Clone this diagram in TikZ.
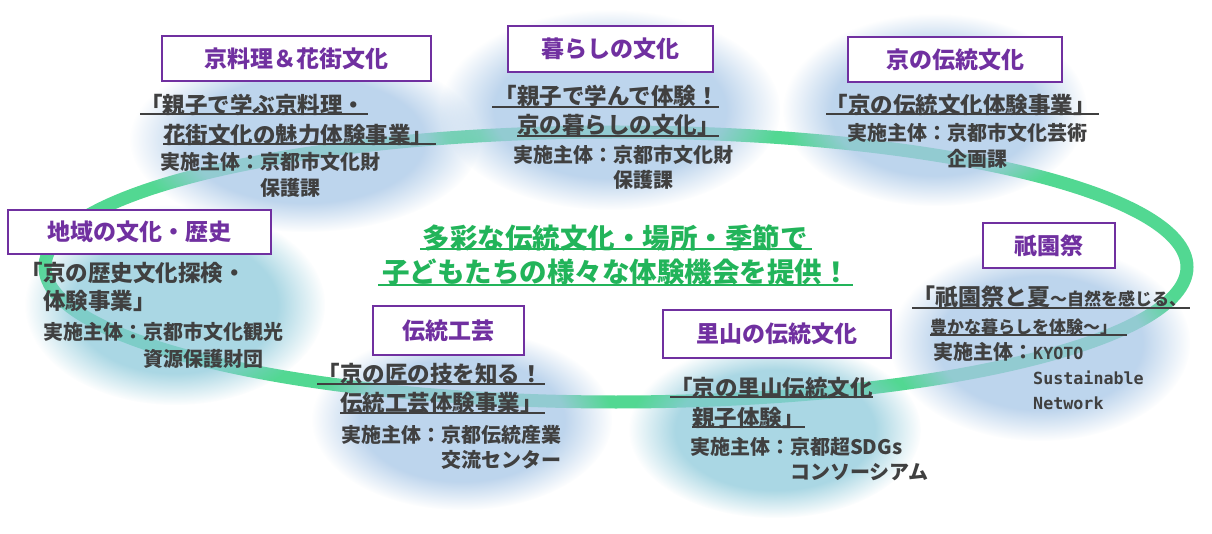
\documentclass[tikz,border=0pt]{standalone}
\usepackage{fontspec}
\setmainfont{Noto Sans CJK JP}
\setmonofont{DejaVu Sans Mono}
\usepackage{tikz}
\usetikzlibrary{fadings}

\definecolor{ringgreen}{RGB}{82,216,146}
\definecolor{blobblue}{RGB}{168,199,231}
\definecolor{blobcyan}{RGB}{142,202,219}
\definecolor{kikaku}{RGB}{112,48,160}
\definecolor{sumi}{RGB}{64,64,64}
\definecolor{midori}{RGB}{34,180,90}

\pgfdeclareradialshading{blobshade}{\pgfpointorigin}{color(0bp)=(white); color(17bp)=(white); color(25bp)=(black); color(50bp)=(black)}
\pgfdeclarefading{blobfade}{\pgfuseshading{blobshade}}

\begin{document}
\begin{tikzpicture}[x=1pt, y=-1pt,
  titlebox/.style={draw=kikaku, line width=2pt, fill=white, text=kikaku, inner sep=0pt,
    font=\bfseries\fontsize{23}{27}\selectfont},
  project/.style={anchor=west, inner sep=0pt, text=sumi, font=\bfseries\fontsize{22.5}{27}\selectfont},
  organizer/.style={anchor=west, inner sep=0pt, text=sumi, font=\bfseries\fontsize{20}{24}\selectfont},
  uline/.style={draw=sumi, line width=1.2pt},
  slogan/.style={inner sep=0pt, text=midori, font=\bfseries\fontsize{27.5}{32}\selectfont}]
\useasboundingbox (0,0) rectangle (1212,534);
\fill[white] (0,0) rectangle (1212,534);

% ring
\draw[ringgreen, line width=13pt] (616,267) ellipse (571pt and 135pt);

% soft blobs
\foreach \cx/\cy/\rx/\ry/\col in {305/140/175/92/blobblue, 610/110/170/100/blobblue,
    935/110/152/96/blobblue, 175/305/150/100/blobcyan, 1040/343/150/98/blobblue,
    462/420/150/90/blobblue, 775/430/146/88/blobcyan}
  \fill[\col, fill opacity=0.75, path fading=blobfade] (\cx,\cy) ellipse (\rx pt and \ry pt);

% title boxes
\node[titlebox, minimum width=269pt, minimum height=45pt] (ryoriT) at (296.5,58.5) {京料理＆花街文化};
\node[titlebox, minimum width=205pt, minimum height=46pt] (kurashiT) at (610.5,49) {暮らしの文化};
\node[titlebox, minimum width=214pt, minimum height=45pt] (dentoT) at (955,59.5) {京の伝統文化};
\node[titlebox, minimum width=263pt, minimum height=44pt] (chiikiT) at (139.5,232) {地域の文化・歴史};
\node[titlebox, minimum width=132pt, minimum height=45pt] (gionT) at (1049,245.5) {祇園祭};
\node[titlebox, minimum width=151pt, minimum height=49pt] (kogeiT) at (448.5,330.5) {伝統工芸};
\node[titlebox, minimum width=228pt, minimum height=48pt] (satoT) at (777,334) {里山の伝統文化};

% kyo-ryori
\node[project] (ryori1) at (140,105) {「親子で学ぶ京料理・};
\node[project] (ryori2) at (163,134.5) {花街文化の魅力体験事業」};
\node[organizer] (ryori3) at (160,162) {実施主体：京都市文化財};
\node[organizer] (ryori4) at (260,188) {保護課};
\draw[uline] (140,114) -- (368,114);
\draw[uline] (163,144) -- (436,144);

% kurashi
\node[project] (kurashi1) at (494.5,95.5) {「親子で学んで体験！};
\node[project] (kurashi2) at (517,125) {京の暮らしの文化」};
\node[organizer] (kurashi3) at (513,154.5) {実施主体：京都市文化財};
\node[organizer] (kurashi4) at (613,180) {保護課};
\draw[uline] (492,107) -- (719,107);
\draw[uline] (517,136) -- (719,136);

% kyo no dento
\node[project] (dento1) at (825.5,105) {「京の伝統文化体験事業」};
\node[organizer] (dento2) at (847,133) {実施主体：京都市文化芸術};
\node[organizer] (dento3) at (947,159) {企画課};
\draw[uline] (826,114) -- (1099,114);

% chiiki
\node[project] (chiiki1) at (20.5,273.5) {「京の歴史文化探検・};
\node[project] (chiiki2) at (43,301) {体験事業」};
\node[organizer] (chiiki3) at (43,332) {実施主体：京都市文化観光};
\node[organizer] (chiiki4) at (143,358.5) {資源保護財団};

% gion
\node[anchor=base west, inner sep=0pt, text=sumi, font=\bfseries] (gion1) at (912,306)
  {{\fontsize{23}{27}\selectfont 「祇園祭と夏}{\fontsize{17}{20}\selectfont ～自然を感じる、}};
\node[organizer, font=\bfseries\fontsize{17}{20}\selectfont] (gion2) at (930,327) {豊かな暮らしを体験～」};
\node[organizer] (gion3) at (933,352) {実施主体：{\ttfamily\fontsize{16.7}{20}\selectfont KYOTO}};
\node[organizer, font=\ttfamily\bfseries\fontsize{16.7}{20}\selectfont] (gion4) at (1033,378) {Sustainable};
\node[organizer, font=\ttfamily\bfseries\fontsize{16.7}{20}\selectfont] (gion5) at (1033,403) {Network};
\draw[uline] (912,308) -- (1190,308);
\draw[uline] (930,335) -- (1127,335);

% kogei
\node[project] (kogei1) at (317.5,374) {「京の匠の技を知る！};
\node[project] (kogei2) at (340,403) {伝統工芸体験事業」};
\node[organizer] (kogei3) at (341,435) {実施主体：京都伝統産業};
\node[organizer] (kogei4) at (441,460) {交流センター};
\draw[uline] (317,384) -- (545,384);
\draw[uline] (340,413) -- (545,413);

% satoyama
\node[project] (sato1) at (670,388) {「京の里山伝統文化};
\node[project] (sato2) at (692,418) {親子体験」};
\node[organizer] (sato3) at (690,447) {実施主体：京都超SDGs};
\node[organizer] (sato4) at (790,472) {コンソーシアム};
\draw[uline] (670,397) -- (873,397);
\draw[uline] (692,427) -- (805,427);

% center message
\node[slogan] (msg1) at (615,238) {多彩な伝統文化・場所・季節で};
\node[slogan] (msg2) at (616,272) {子どもたちの様々な体験機会を提供！};
\draw[midori, line width=1.5pt] (420,249) -- (812,249);
\draw[midori, line width=1.5pt] (378,285) -- (853,285);
\end{tikzpicture}
\end{document}
